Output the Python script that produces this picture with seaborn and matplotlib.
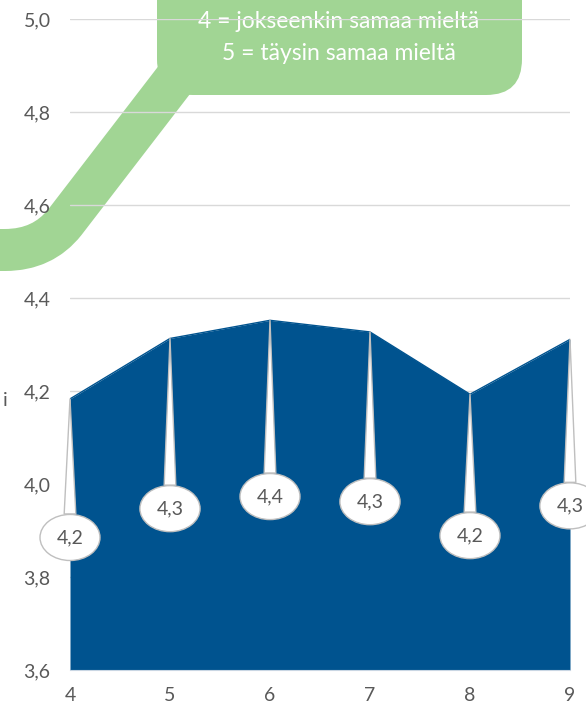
import numpy as np
import matplotlib
matplotlib.use("Agg")
import matplotlib.pyplot as plt
from matplotlib.patches import FancyBboxPatch, PathPatch
from matplotlib.path import Path
import seaborn as sns

# data
x_vals = [4, 5, 6, 7, 8, 9]
y_vals = [4.183, 4.313, 4.352, 4.327, 4.193, 4.311]
label_text = ["4,2", "4,3", "4,4", "4,3", "4,2", "4,3"]
y_ticks = [3.6, 3.8, 4.0, 4.2, 4.4, 4.6, 4.8, 5.0]

# where the callout bubbles sit (layout only)
label_y = [3.885, 3.947, 3.973, 3.962, 3.889, 3.953]

legend_lines = ["3 = neutraali", "4 = jokseenkin samaa mieltä", "5 = täysin samaa mieltä"]

sns.set_theme(style="white")
plt.rcParams['font.family'] = ['Lato', 'DejaVu Sans']

blue = "#00538f"
green = "#a1d594"
grey_txt = "#595959"

fig = plt.figure(figsize=(5.86, 7.07), dpi=100, facecolor="white")

# background layer in pixel coords for the green callout shape
bg = fig.add_axes([0, 0, 1, 1], zorder=0)
bg.set_xlim(0, 586)
bg.set_ylim(707, 0)
bg.axis("off")

verts = [(-60, 250), (5, 250), (43, 250), (65, 222), (205, 40)]
codes = [Path.MOVETO, Path.LINETO, Path.CURVE3, Path.CURVE3, Path.LINETO]
band = PathPatch(Path(verts, codes), fill=False, edgecolor=green,
                 linewidth=42 * 0.72, capstyle="butt", joinstyle="round")
bg.add_patch(band)
box = FancyBboxPatch((157, -80), 365, 175, boxstyle="round,pad=0,rounding_size=36",
                     facecolor=green, edgecolor="none")
bg.add_patch(box)
for i, line in enumerate(legend_lines):
    bg.text(339, -9 + 31 * i, line, color="white", fontsize=16.5,
            ha="center", va="center")
bg.text(3, 400, "i", color=grey_txt, fontsize=14, ha="left", va="center")

# main chart
ax = fig.add_axes([70 / 586, 37 / 707, 500 / 586, 651 / 707], zorder=1)
ax.set_facecolor("none")
ax.fill_between(x_vals, y_vals, 3.6, color=blue, linewidth=0, zorder=2)
sns.lineplot(x=x_vals, y=y_vals, color=blue, linewidth=1, ax=ax, zorder=2)

ax.set_xlim(4, 9)
ax.set_ylim(3.6, 5.0)
ax.set_xticks(x_vals)
ax.set_yticks(y_ticks)
ax.set_xticklabels([str(v) for v in x_vals])
ax.set_yticklabels([f"{v:.1f}".replace(".", ",") for v in y_ticks])
ax.tick_params(axis="both", length=0, labelsize=14, labelcolor=grey_txt)
ax.tick_params(axis="y", pad=14)
ax.tick_params(axis="x", pad=12)
ax.grid(axis="y", color="#d9d9d9", linewidth=1)
ax.set_axisbelow(True)
for s in ["left", "right", "top"]:
    ax.spines[s].set_visible(False)
ax.spines["bottom"].set_color("#c9d6e3")
ax.spines["bottom"].set_linewidth(0.8)
ax.set_xlabel("")
ax.set_ylabel("")

for xv, yv, ly, txt in zip(x_vals, y_vals, label_y, label_text):
    ax.annotate(txt, xy=(xv, yv), xytext=(xv, ly), ha="center", va="center",
                fontsize=14, color=grey_txt, zorder=5, annotation_clip=False,
                bbox=dict(boxstyle="ellipse,pad=0.4", fc="white", ec="#bfbfbf", lw=1),
                arrowprops=dict(arrowstyle="wedge,tail_width=0.6", fc="white",
                                ec="#bfbfbf", lw=1, shrinkA=0, shrinkB=0))

fig.savefig("out.png", dpi=100, facecolor="white")
